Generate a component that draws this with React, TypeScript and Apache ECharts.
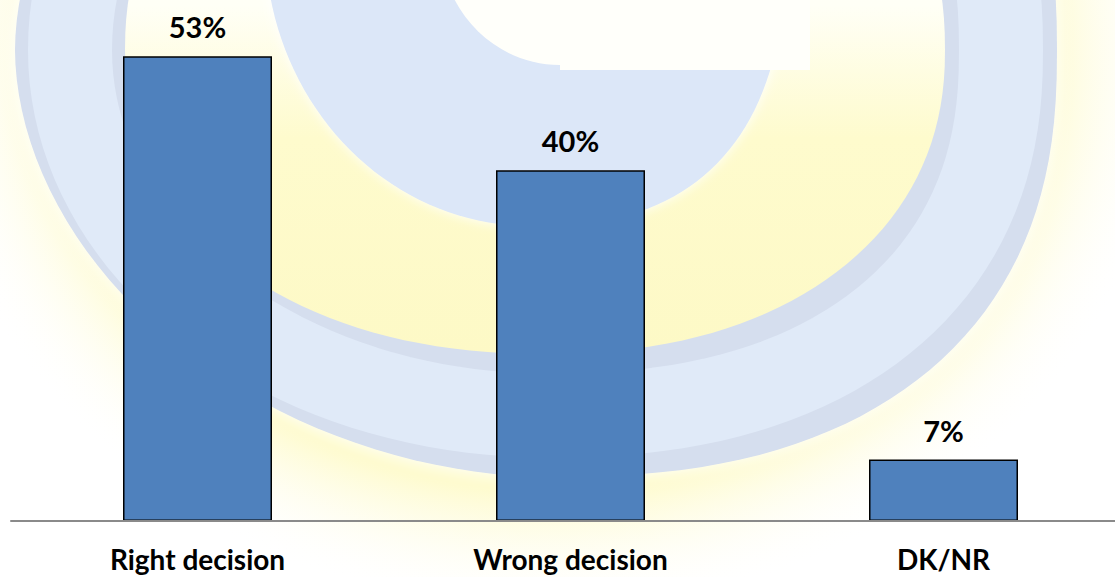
import React, { useEffect, useRef } from "react";
import * as echarts from "echarts";

const categories = ["Right decision", "Wrong decision", "DK/NR"];
const values = [53, 40, 7];
const valueLabels = ["53%", "40%", "7%"];

// decorative watermark outline: superellipse-like contour
type Contour = { cx: number; cy: number; aL: number; aR: number; bT: number; bB: number; nL: number; nR: number };
const ringOuterSpec: Contour = { cx: 550, cy: 50, aL: 535, aR: 507, bT: 430, bB: 427, nL: 1.9, nR: 2.4 };
const ringInnerSpec: Contour = { cx: 545, cy: 50, aL: 420, aR: 400, bT: 330, bB: 304, nL: 2.15, nR: 2.2 };
const letterCSpec: Contour = { cx: 530, cy: -60, aL: 265, aR: 255, bT: 288, bB: 286, nL: 2.0, nR: 2.5 };

function contourPoints(s: Contour, steps = 160): number[][] {
  const pts: number[][] = [];
  for (let i = 0; i < steps; i++) {
    const t = (i / steps) * Math.PI * 2;
    const c = Math.cos(t);
    const sn = Math.sin(t);
    const right = c >= 0;
    const n = right ? s.nR : s.nL;
    const a = right ? s.aR : s.aL;
    const b = sn >= 0 ? s.bB : s.bT;
    const x = s.cx + a * Math.sign(c) * Math.pow(Math.abs(c), 2 / n);
    const y = s.cy + b * Math.sign(sn) * Math.pow(Math.abs(sn), 2 / n);
    pts.push([x, y]);
  }
  return pts;
}

export default function App() {
  const ref = useRef<HTMLDivElement>(null);
  useEffect(() => {
    if (!ref.current) return;
    const chart = echarts.init(ref.current, null, { renderer: "svg" });
    const font = "Lato, 'Open Sans', sans-serif";
    const outer = contourPoints(ringOuterSpec);
    const inner = contourPoints(ringInnerSpec);
    const mid = outer.map((p, i) => [(p[0] + inner[i][0]) / 2, (p[1] + inner[i][1]) / 2]);
    const cShape = contourPoints(letterCSpec);
    chart.setOption({
      animation: false,
      backgroundColor: "#ffffff",
      graphic: {
        elements: [
          {
            type: "circle",
            x: 548,
            y: 50,
            scaleX: 1.12,
            scaleY: 1,
            z: -10,
            silent: true,
            shape: { cx: 0, cy: 0, r: 565 },
            style: {
              fill: new echarts.graphic.RadialGradient(0.5, 0.5, 0.5, [
                { offset: 0, color: "#fefbcc" },
                { offset: 0.78, color: "#fefbce" },
                { offset: 1, color: "rgba(255,255,255,0)" },
              ]),
            },
          },
          {
            type: "polygon",
            z: -9,
            silent: true,
            shape: { points: outer },
            style: {
              fill: "#d5deee",
              shadowBlur: 16,
              shadowColor: "rgba(255,255,255,1)",
            },
          },
          {
            type: "polygon",
            z: -9,
            silent: true,
            shape: { points: mid },
            style: {
              fill: "none",
              stroke: "#e0eaf8",
              lineWidth: 84,
            },
          },
          {
            type: "polygon",
            z: -8,
            silent: true,
            shape: { points: inner },
            style: {
              fill: new echarts.graphic.LinearGradient(0, 0, 0, 1, [
                { offset: 0, color: "#ffffff" },
                { offset: 0.45, color: "#fffff6" },
                { offset: 0.66, color: "#fefbcd" },
                { offset: 1, color: "#fdf9c6" },
              ]),
            },
          },
          {
            type: "polygon",
            z: -7,
            silent: true,
            shape: { points: cShape },
            style: {
              fill: "#dce7f8",
              shadowBlur: 12,
              shadowColor: "rgba(255,255,255,1)",
            },
          },
          {
            type: "ellipse",
            z: -6,
            silent: true,
            shape: { cx: 560, cy: -60, rx: 120, ry: 125 },
            style: { fill: "#fffffa" },
          },
          {
            type: "rect",
            z: -6,
            silent: true,
            shape: { x: 560, y: -100, width: 250, height: 170 },
            style: { fill: "#fffffa" },
          },
        ],
      },
      grid: { left: 11, right: 0, top: 0, bottom: 56, containLabel: false },
      xAxis: {
        type: "category",
        data: categories,
        z: 5,
        axisLine: { show: true, lineStyle: { color: "#8a8a8a", width: 2 } },
        axisTick: { show: false },
        axisLabel: {
          color: "#000000",
          fontFamily: font,
          fontWeight: "bold",
          fontSize: 28,
          lineHeight: 24,
          margin: 26,
        },
      },
      yAxis: {
        type: "value",
        min: 0,
        max: 59.4,
        show: false,
        splitLine: { show: false },
      },
      series: [
        {
          type: "bar",
          data: values,
          barWidth: 149,
          z: 4,
          itemStyle: { color: "#4f81bd", borderColor: "#000000", borderWidth: 1.5 },
          label: {
            show: true,
            position: "top",
            distance: 15,
            color: "#000000",
            fontFamily: font,
            fontWeight: "bold",
            fontSize: 29,
            formatter: (p: any) => valueLabels[p.dataIndex],
          },
        },
      ],
    });
    return () => chart.dispose();
  }, []);
  return (
    <div
      style={{
        position: "absolute",
        left: 0,
        top: 0,
        width: 1115,
        height: 577,
        overflow: "hidden",
      }}
    >
      <div ref={ref} style={{ width: 1130, height: 577 }} />
    </div>
  );
}
